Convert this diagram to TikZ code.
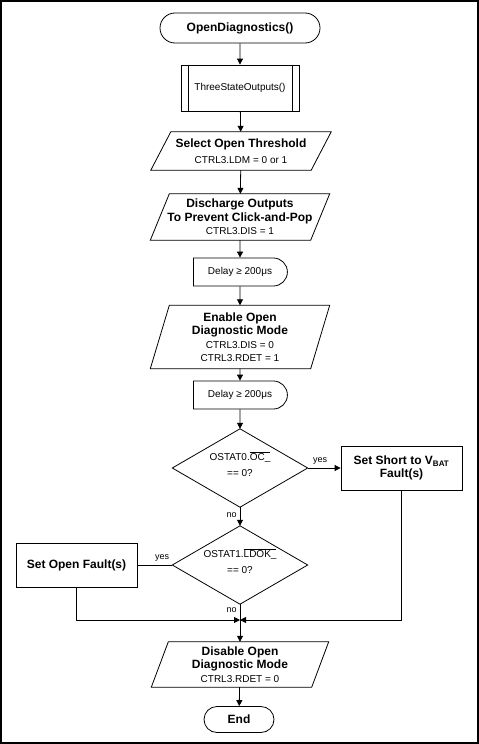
\documentclass[tikz,border=0pt]{standalone}
\usepackage{fontspec}
\setmainfont{Liberation Sans}
\usetikzlibrary{shapes.geometric,shapes.misc,arrows.meta}
\newcommand\mynorm{\normalfont\fontsize{10}{13}\selectfont}
\begin{document}
\begin{tikzpicture}[x=1pt,y=-1pt,
  shp/.style={draw=black,line width=0.8pt},
  bold/.style={font=\bfseries\fontsize{12}{13.5}\selectfont},
  term/.style={shp,rounded rectangle,inner sep=0pt,bold},
  delaybox/.style={shp,rounded rectangle,rounded rectangle left arc=none,minimum width=94pt,minimum height=28pt,inner sep=0pt,font=\mynorm},
  parabox/.style={align=center,inner sep=0pt,minimum width=160pt,bold},
  boxnode/.style={shp,rectangle,minimum width=121pt,minimum height=44pt,align=center,inner sep=0pt,bold},
  dia/.style={rectangle,minimum width=135pt,minimum height=78pt,inner sep=0pt},
  diatext/.style={align=center,inner sep=0pt,font=\mynorm},
  conn/.style={draw=black,line width=0.8pt},
  arr/.style={conn,-{Triangle[length=6pt,width=6pt]}},
  lab/.style={font=\fontsize{9}{10}\selectfont,inner sep=0pt}
]
\useasboundingbox (0,0) rectangle (479,744);
\draw[line width=2pt] (1,1) rectangle (478,743);

\node[term,minimum width=160pt,minimum height=30pt] (start) at (240,28) {OpenDiagnostics()};

\node[shp,rectangle,minimum width=118pt,minimum height=46pt,inner sep=0pt,font=\mynorm] (tso) at (240,88) {ThreeStateOutputs()};
\draw[shp] ([xshift=7.5pt]tso.north west) -- ([xshift=7.5pt]tso.south west);
\draw[shp] ([xshift=-7.5pt]tso.north east) -- ([xshift=-7.5pt]tso.south east);

\node[parabox,minimum height=38pt] (sel) at (241,151) {Select Open Threshold\\[2pt] \mynorm CTRL3.LDM = 0 or 1};
\draw[shp] ([xshift=-10pt]sel.south west) -- ([xshift=10pt]sel.north west) -- ([xshift=10pt]sel.north east) -- ([xshift=-10pt]sel.south east) -- cycle;

\node[parabox,minimum height=46pt] (dis) at (240,217) {Discharge Outputs\\ To Prevent Click-and-Pop\\ \mynorm CTRL3.DIS = 1};
\draw[shp] ([xshift=-9.5pt]dis.south west) -- ([xshift=9.5pt]dis.north west) -- ([xshift=9.5pt]dis.north east) -- ([xshift=-9.5pt]dis.south east) -- cycle;

\node[delaybox] (d1) at (240,272) {Delay ≥ 200μs};

\node[parabox,minimum height=63pt] (ena) at (240,337) {Enable Open\\ Diagnostic Mode\\ \mynorm CTRL3.DIS = 0\\ \mynorm CTRL3.RDET = 1};
\draw[shp] ([xshift=-9.5pt]ena.south west) -- ([xshift=9.5pt]ena.north west) -- ([xshift=9.5pt]ena.north east) -- ([xshift=-9.5pt]ena.south east) -- cycle;

\node[delaybox] (d2) at (240,395) {Delay ≥ 200μs};

\node[dia] (q1) at (240,468) {};
\draw[shp] (q1.north) -- (q1.east) -- (q1.south) -- (q1.west) -- cycle;
\node[diatext] (q1t) at (240,464) {OSTAT0.$\overline{\mbox{OC\_}}$\\[3pt] == 0?};
\node[boxnode] (short) at (401.5,468) {Set Short to V\textsubscript{BAT}\\ Fault(s)};

\node[dia] (q2) at (240,565) {};
\draw[shp] (q2.north) -- (q2.east) -- (q2.south) -- (q2.west) -- cycle;
\node[diatext] (q2t) at (240,561) {OSTAT1.$\overline{\mbox{LDOK\_}}$\\[3pt] == 0?};
\node[boxnode] (open) at (76.5,565) {Set Open Fault(s)};

\coordinate (m) at (240,620);

\node[parabox,minimum height=45pt] (dsb) at (240,664.5) {Disable Open\\ Diagnostic Mode\\ \mynorm CTRL3.RDET = 0};
\draw[shp] ([xshift=-8.5pt]dsb.south west) -- ([xshift=8.5pt]dsb.north west) -- ([xshift=8.5pt]dsb.north east) -- ([xshift=-8.5pt]dsb.south east) -- cycle;

\node[term,minimum width=70pt,minimum height=26pt] (end) at (239,719.5) {End};

\draw[arr] (start) -- (tso);
\draw[arr] (tso) -- (sel);
\draw[arr] (sel) -- (dis);
\draw[arr] (dis) -- (d1);
\draw[arr] (d1) -- (ena);
\draw[arr] (ena) -- (d2);
\draw[arr] (d2) -- (q1);
\draw[arr] (q1) -- node[lab,pos=0.38,above=3pt] {yes} (short);
\draw[arr] (q1) -- node[lab,pos=0.4,left=3pt] {no} (q2);
\draw[conn] (q2) -- node[lab,pos=0.29,above=3pt] {yes} (open);
\draw[arr] (q2) -- node[lab,pos=0.16,left=3pt] {no} (dsb);
\draw[arr] (open.south) |- (m);
\draw[arr] (short.south) |- (m);
\draw[arr] (dsb) -- (end);
\end{tikzpicture}
\end{document}
